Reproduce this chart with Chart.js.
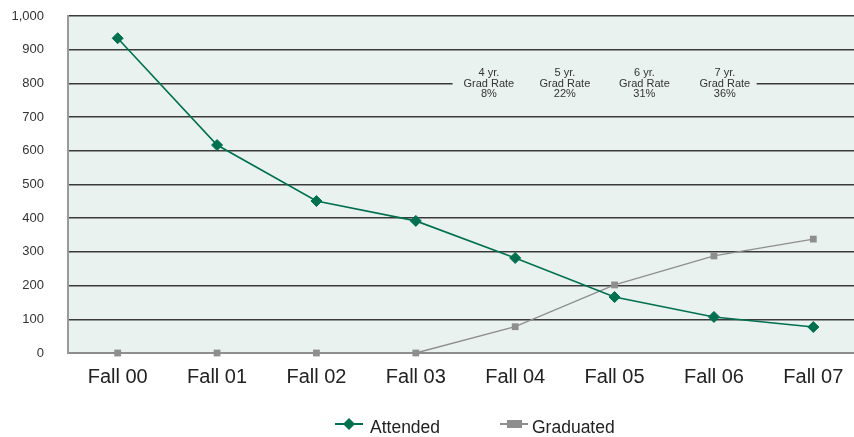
<!DOCTYPE html>
<html>
<head>
<meta charset="utf-8">
<script src="https://cdn.jsdelivr.net/npm/chart.js@4.4.0/dist/chart.umd.min.js"></script>
<style>
  html, body { margin: 0; padding: 0; background: #ffffff; overflow: hidden; }
  #wrap { position: relative; width: 950px; height: 437px; }
</style>
</head>
<body>
<div id="wrap"><canvas id="c"></canvas></div>
<script>
// ---- data ----
const categories = ['Fall 00', 'Fall 01', 'Fall 02', 'Fall 03', 'Fall 04', 'Fall 05', 'Fall 06', 'Fall 07'];
const attended = [934, 617, 451, 392, 282, 166, 107, 77];
const graduated = [0, 0, 0, 0, 78, 202, 288, 338];
const yTickLabels = ['0', '100', '200', '300', '400', '500', '600', '700', '800', '900', '1,000'];
const rateYears = ['4 yr.', '5 yr.', '6 yr.', '7 yr.'];
const rateTitle = 'Grad Rate';
const rateValues = ['8%', '22%', '31%', '36%'];
const rateAnchor = [3.735, 4.50, 5.30, 6.11];   // category-axis positions of the notes
const rateBoxRange = [3.37, 6.43];
const rateLineValue = 800;

const GREEN = '#00704F';
const GREY = '#8E8E8E';
const FONT = "'Liberation Sans', Arial, Helvetica, sans-serif";

Chart.defaults.font.family = FONT;

const plotBg = {
  id: 'plotBg',
  beforeDraw(chart) {
    const { ctx, chartArea: a } = chart;
    ctx.save();
    ctx.fillStyle = '#EAF2F0';
    ctx.fillRect(a.left, a.top, a.right - a.left, a.bottom - a.top);
    ctx.restore();
  }
};

const rateNotes = {
  id: 'rateNotes',
  beforeDatasetsDraw(chart) {
    const { ctx } = chart;
    const xs = chart.scales.x, ys = chart.scales.y;
    const y = ys.getPixelForValue(rateLineValue);
    const x0 = xs.getPixelForValue(rateBoxRange[0]);
    const x1 = xs.getPixelForValue(rateBoxRange[1]);
    ctx.save();
    ctx.fillStyle = '#EAF2F0';
    ctx.fillRect(x0, y - 17, x1 - x0, 34);
    ctx.fillStyle = '#333333';
    ctx.font = '11px ' + FONT;
    ctx.textAlign = 'center';
    ctx.textBaseline = 'middle';
    for (let i = 0; i < rateYears.length; i++) {
      const x = xs.getPixelForValue(rateAnchor[i]);
      ctx.fillText(rateYears[i], x, y - 10);
      ctx.fillText(rateTitle, x, y + 0.8);
      ctx.fillText(rateValues[i], x, y + 11);
    }
    ctx.restore();
  }
};

const customLegend = {
  id: 'customLegend',
  afterDraw(chart) {
    const { ctx } = chart;
    const cx = 475;
    const y = 424;
    ctx.save();
    ctx.font = '17.5px ' + FONT;
    ctx.textBaseline = 'alphabetic';
    const ds = chart.data.datasets;
    // item 1
    let x = cx - 140;
    ctx.strokeStyle = ds[0].borderColor;
    ctx.lineWidth = 2;
    ctx.beginPath(); ctx.moveTo(x, y); ctx.lineTo(x + 28, y); ctx.stroke();
    ctx.fillStyle = ds[0].borderColor;
    ctx.beginPath();
    ctx.moveTo(x + 14, y - 6); ctx.lineTo(x + 20, y); ctx.lineTo(x + 14, y + 6); ctx.lineTo(x + 8, y);
    ctx.closePath(); ctx.fill();
    ctx.fillStyle = '#222222';
    ctx.fillText(ds[0].label, x + 35, y + 8.5);
    // item 2
    x = cx + 25;
    ctx.strokeStyle = ds[1].borderColor;
    ctx.lineWidth = 2;
    ctx.beginPath(); ctx.moveTo(x, y); ctx.lineTo(x + 28, y); ctx.stroke();
    ctx.fillStyle = ds[1].borderColor;
    ctx.fillRect(x + 7, y - 4, 15, 8);
    ctx.fillStyle = '#222222';
    ctx.fillText(ds[1].label, x + 32, y + 8.5);
    ctx.restore();
  }
};

new Chart(document.getElementById('c'), {
  type: 'line',
  data: {
    labels: categories,
    datasets: [
      {
        label: 'Attended',
        data: attended,
        borderColor: GREEN,
        backgroundColor: GREEN,
        borderWidth: 1.6,
        pointStyle: 'rectRot',
        pointRadius: 5.5,
        pointBorderWidth: 1,
        pointBackgroundColor: GREEN,
        pointBorderColor: GREEN,
        tension: 0,
        clip: false
      },
      {
        label: 'Graduated',
        data: graduated,
        borderColor: GREY,
        backgroundColor: GREY,
        borderWidth: 1.3,
        pointStyle: 'rect',
        pointRadius: 4.8,
        pointBorderWidth: 0,
        pointBackgroundColor: GREY,
        pointBorderColor: GREY,
        tension: 0,
        clip: false
      }
    ]
  },
  options: {
    responsive: true,
    maintainAspectRatio: false,
    animation: false,
    devicePixelRatio: 1,
    layout: { padding: { left: 11, right: 87, top: 16, bottom: 36 } },
    plugins: {
      legend: { display: false },
      tooltip: { enabled: false }
    },
    scales: {
      x: {
        type: 'category',
        offset: true,
        grid: { display: false, drawTicks: false },
        border: { display: true, color: '#8C8C8C', width: 2 },
        ticks: { color: '#222222', font: { size: 20 }, padding: 12, maxRotation: 0, autoSkip: false }
      },
      y: {
        min: 0,
        max: 1000,
        afterFit: (scale) => { scale.width = 57; scale.paddingTop = 8; scale.paddingBottom = 8; },
        grid: {
          drawTicks: false,
          color: (c) => (c.tick && c.tick.value === 0 ? 'rgba(0,0,0,0)' : '#3A3A3A'),
          lineWidth: 1.5
        },
        border: { display: true, color: '#9A9A9A', width: 2 },
        ticks: {
          stepSize: 100,
          padding: 24,
          color: '#333333',
          font: { size: 13 },
          callback: (v, i) => yTickLabels[i]
        }
      }
    }
  },
  plugins: [plotBg, rateNotes, customLegend]
});
</script>
</body>
</html>
